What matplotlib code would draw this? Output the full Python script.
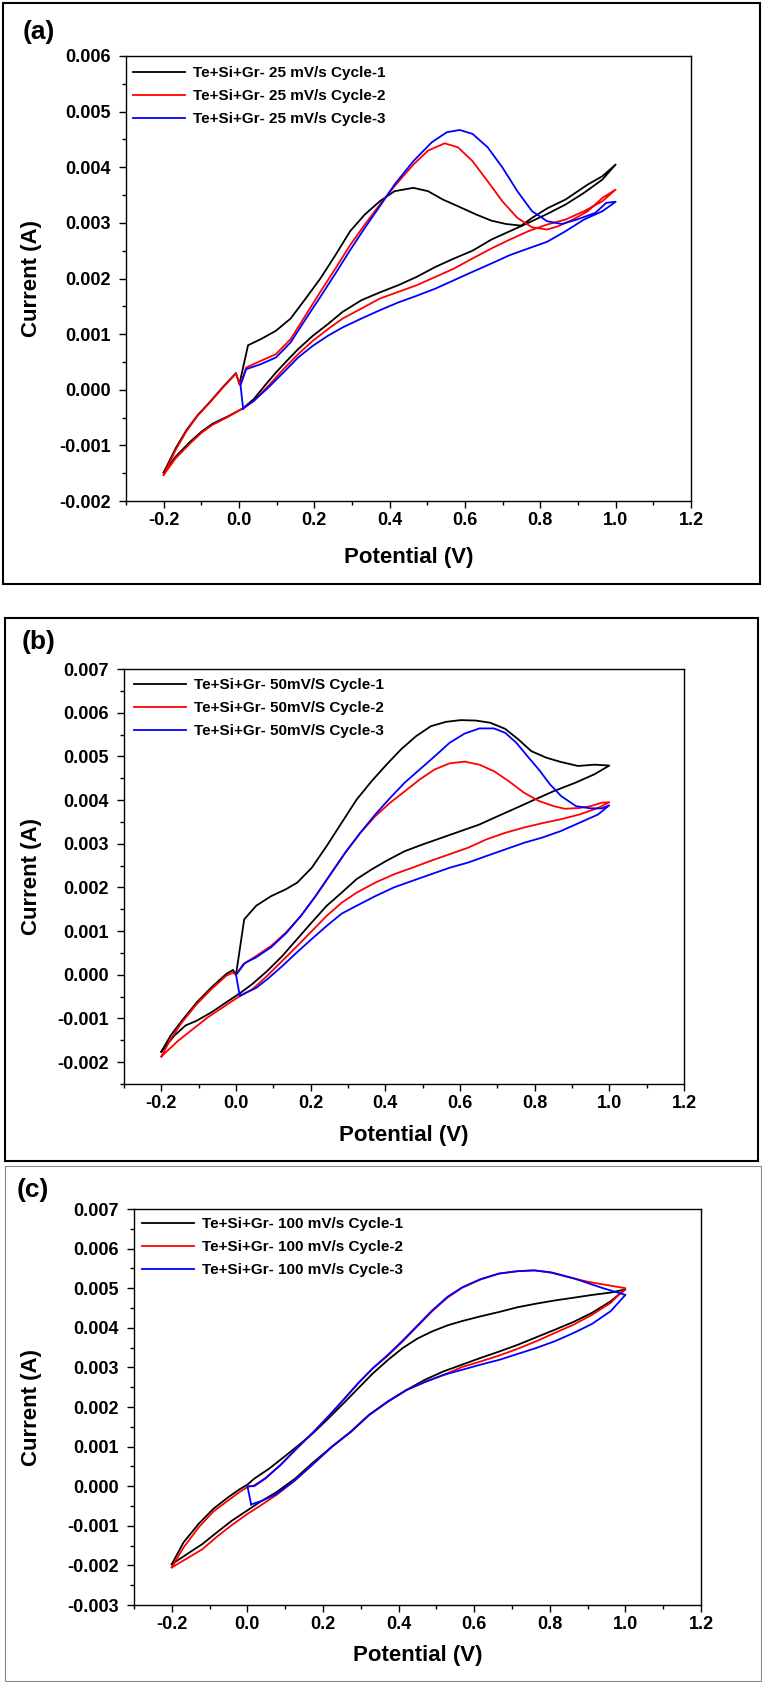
import matplotlib
matplotlib.use("Agg")
import matplotlib.pyplot as plt
from matplotlib.patches import Rectangle
from matplotlib.ticker import MultipleLocator, FuncFormatter

plt.rcParams['font.family'] = ['Liberation Sans', 'DejaVu Sans']
plt.rcParams['font.weight'] = 'bold'
plt.rcParams['axes.unicode_minus'] = False

# ---- (a) 25 mV/s ----
a1_v = [-0.2, -0.168, -0.139, -0.109, -0.08, -0.04, -0.008, 0.001, 0.024, 0.058,
        0.098, 0.137, 0.177, 0.216, 0.256, 0.295, 0.334, 0.374, 0.413, 0.463,
        0.502, 0.541, 0.581, 0.630, 0.670, 0.709, 0.749, 0.778, 0.818, 0.867,
        0.926, 0.965, 1.0, 0.965, 0.916, 0.867, 0.818, 0.768, 0.719, 0.670,
        0.620, 0.571, 0.522, 0.472, 0.423, 0.374, 0.325, 0.275, 0.236, 0.196,
        0.157, 0.127, 0.098, 0.068, 0.039, 0.009, -0.030, -0.070, -0.099, -0.129,
        -0.168, -0.2]
a1_i = [-0.00149, -0.00105, -0.00072, -0.00045, -0.00024, 0.00007, 0.00030, 0.00010, 0.00080, 0.00091,
        0.00106, 0.00128, 0.00164, 0.00200, 0.00242, 0.00285, 0.00315, 0.00339, 0.00357, 0.00363,
        0.00357, 0.00342, 0.00330, 0.00315, 0.00304, 0.00298, 0.00295, 0.00309, 0.00326, 0.00342,
        0.00369, 0.00384, 0.00405, 0.00378, 0.00354, 0.00333, 0.00316, 0.00300, 0.00285, 0.00270,
        0.00250, 0.00236, 0.00221, 0.00203, 0.00188, 0.00175, 0.00161, 0.00140, 0.00118, 0.00097,
        0.00073, 0.00052, 0.00031, 0.00007, -0.00017, -0.00034, -0.00048, -0.00061, -0.00075, -0.00093,
        -0.00120, -0.00149]
a2_v = [-0.2, -0.168, -0.139, -0.109, -0.08, -0.04, -0.008, 0.003, 0.019, 0.058,
        0.098, 0.137, 0.177, 0.216, 0.256, 0.295, 0.334, 0.374, 0.413, 0.463,
        0.502, 0.546, 0.581, 0.620, 0.660, 0.699, 0.739, 0.778, 0.818, 0.847,
        0.887, 0.926, 0.965, 1.0, 0.965, 0.916, 0.867, 0.818, 0.768, 0.719,
        0.670, 0.620, 0.571, 0.522, 0.472, 0.423, 0.374, 0.325, 0.275, 0.236,
        0.196, 0.157, 0.118, 0.078, 0.039, 0.009, -0.030, -0.070, -0.099, -0.129,
        -0.168, -0.2]
a2_i = [-0.00153, -0.00108, -0.00074, -0.00046, -0.00025, 0.00006, 0.00029, 0.00008, 0.00040, 0.00052,
        0.00064, 0.00091, 0.00134, 0.00176, 0.00218, 0.00260, 0.00297, 0.00333, 0.00366, 0.00405,
        0.00430, 0.00443, 0.00436, 0.00411, 0.00375, 0.00339, 0.00309, 0.00292, 0.00288, 0.00294,
        0.00306, 0.00321, 0.00345, 0.00360, 0.00339, 0.00321, 0.00306, 0.00297, 0.00285, 0.00270,
        0.00254, 0.00236, 0.00218, 0.00203, 0.00188, 0.00176, 0.00164, 0.00146, 0.00128, 0.00109,
        0.00088, 0.00064, 0.00037, 0.00007, -0.00020, -0.00034, -0.00049, -0.00063, -0.00077, -0.00096,
        -0.00123, -0.00153]
a3_v = [0.011, 0.004, 0.019, 0.058, 0.098, 0.137, 0.177, 0.216, 0.256, 0.295,
        0.334, 0.374, 0.413, 0.463, 0.512, 0.552, 0.586, 0.620, 0.660, 0.699,
        0.739, 0.778, 0.818, 0.857, 0.897, 0.946, 0.975, 1.0, 0.965, 0.916,
        0.867, 0.818, 0.768, 0.719, 0.670, 0.620, 0.571, 0.522, 0.472, 0.423,
        0.374, 0.325, 0.275, 0.236, 0.196, 0.157, 0.118, 0.078, 0.039, 0.011]
a3_i = [-0.00034, 0.00008, 0.00037, 0.00046, 0.00058, 0.00085, 0.00127, 0.00167, 0.00209, 0.00251,
        0.00291, 0.00330, 0.00369, 0.00411, 0.00445, 0.00463, 0.00467, 0.00460, 0.00436, 0.00400,
        0.00357, 0.00321, 0.00303, 0.00298, 0.00306, 0.00318, 0.00336, 0.00338, 0.00321, 0.00306,
        0.00285, 0.00266, 0.00254, 0.00242, 0.00227, 0.00212, 0.00197, 0.00182, 0.00169, 0.00157,
        0.00143, 0.00128, 0.00112, 0.00097, 0.00079, 0.00058, 0.00031, 0.00004, -0.00020, -0.00034]

# ---- (b) 50 mV/s ----
b1_v = [-0.2, -0.175, -0.145, -0.105, -0.066, -0.026, -0.008, 0.0, 0.022, 0.054,
        0.094, 0.134, 0.164, 0.203, 0.243, 0.283, 0.323, 0.363, 0.403, 0.442,
        0.482, 0.522, 0.562, 0.602, 0.642, 0.681, 0.721, 0.756, 0.791, 0.831,
        0.871, 0.916, 0.960, 1.0, 0.960, 0.910, 0.850, 0.800, 0.751, 0.701,
        0.652, 0.602, 0.552, 0.502, 0.452, 0.403, 0.363, 0.323, 0.283, 0.243,
        0.203, 0.164, 0.124, 0.084, 0.044, 0.014, -0.026, -0.066, -0.105, -0.135,
        -0.165, -0.2]
b1_i = [-0.00176, -0.00139, -0.00105, -0.00063, -0.00029, 0.00002, 0.00011, 0.00000, 0.00127, 0.00158,
        0.00180, 0.00196, 0.00211, 0.00245, 0.00295, 0.00348, 0.00401, 0.00443, 0.00481, 0.00516,
        0.00546, 0.00569, 0.00579, 0.00583, 0.00582, 0.00577, 0.00563, 0.00539, 0.00512, 0.00497,
        0.00487, 0.00478, 0.00481, 0.00479, 0.00459, 0.00440, 0.00420, 0.00401, 0.00382, 0.00363,
        0.00344, 0.00329, 0.00314, 0.00299, 0.00283, 0.00261, 0.00241, 0.00219, 0.00188, 0.00158,
        0.00120, 0.00082, 0.00043, 0.00009, -0.00021, -0.00040, -0.00063, -0.00086, -0.00105, -0.00116,
        -0.00139, -0.00176]
b2_v = [-0.2, -0.175, -0.145, -0.105, -0.066, -0.026, -0.008, 0.0, 0.019, 0.054,
        0.094, 0.134, 0.174, 0.213, 0.253, 0.293, 0.333, 0.373, 0.413, 0.452,
        0.492, 0.532, 0.572, 0.612, 0.652, 0.691, 0.731, 0.771, 0.811, 0.851,
        0.881, 0.921, 0.950, 0.980, 1.0, 0.970, 0.920, 0.870, 0.820, 0.771,
        0.721, 0.671, 0.622, 0.572, 0.522, 0.472, 0.423, 0.373, 0.323, 0.283,
        0.243, 0.203, 0.164, 0.124, 0.084, 0.044, 0.004, -0.036, -0.075, -0.115,
        -0.155, -0.2]
b2_i = [-0.00187, -0.00147, -0.00109, -0.00067, -0.00033, -0.00002, 0.00005, 0.00000, 0.00024, 0.00043,
        0.00066, 0.00097, 0.00135, 0.00180, 0.00230, 0.00280, 0.00325, 0.00363, 0.00394, 0.00420,
        0.00447, 0.00470, 0.00484, 0.00488, 0.00481, 0.00466, 0.00443, 0.00417, 0.00398, 0.00386,
        0.00380, 0.00382, 0.00386, 0.00394, 0.00395, 0.00382, 0.00367, 0.00356, 0.00347, 0.00337,
        0.00325, 0.00310, 0.00291, 0.00276, 0.00261, 0.00245, 0.00230, 0.00211, 0.00188, 0.00165,
        0.00135, 0.00100, 0.00066, 0.00032, -0.00002, -0.00033, -0.00052, -0.00075, -0.00097, -0.00124,
        -0.00151, -0.00187]
b3_v = [0.010, 0.0, 0.024, 0.054, 0.094, 0.134, 0.174, 0.213, 0.253, 0.293,
        0.333, 0.373, 0.413, 0.452, 0.492, 0.532, 0.572, 0.612, 0.652, 0.691,
        0.721, 0.751, 0.781, 0.811, 0.841, 0.871, 0.911, 0.950, 0.980, 1.0,
        0.970, 0.920, 0.870, 0.820, 0.771, 0.721, 0.671, 0.622, 0.572, 0.522,
        0.472, 0.423, 0.373, 0.323, 0.283, 0.243, 0.203, 0.164, 0.124, 0.084,
        0.054, 0.010]
b3_i = [-0.00048, 0.00000, 0.00027, 0.00040, 0.00063, 0.00095, 0.00135, 0.00180, 0.00230, 0.00280,
        0.00325, 0.00367, 0.00405, 0.00440, 0.00470, 0.00500, 0.00531, 0.00552, 0.00564, 0.00564,
        0.00554, 0.00531, 0.00500, 0.00470, 0.00436, 0.00409, 0.00386, 0.00381, 0.00381, 0.00388,
        0.00367, 0.00348, 0.00329, 0.00314, 0.00302, 0.00287, 0.00272, 0.00257, 0.00245, 0.00230,
        0.00215, 0.00200, 0.00180, 0.00158, 0.00140, 0.00112, 0.00082, 0.00052, 0.00020, -0.00010,
        -0.00030, -0.00048]

# ---- (c) 100 mV/s ----
c1_v = [-0.2, -0.169, -0.129, -0.090, -0.051, -0.021, 0.0, 0.018, 0.057, 0.097,
        0.136, 0.175, 0.214, 0.254, 0.293, 0.332, 0.372, 0.411, 0.450, 0.489,
        0.529, 0.568, 0.617, 0.666, 0.715, 0.764, 0.813, 0.863, 0.912, 0.961,
        1.0, 0.961, 0.912, 0.863, 0.813, 0.764, 0.715, 0.666, 0.617, 0.568,
        0.519, 0.470, 0.421, 0.372, 0.322, 0.273, 0.224, 0.175, 0.126, 0.077,
        0.028, 0.0, -0.041, -0.080, -0.119, -0.159, -0.2]
c1_i = [-0.00197, -0.00142, -0.00095, -0.00057, -0.00028, -0.00008, 0.00004, 0.00019, 0.00044, 0.00074,
        0.00104, 0.00135, 0.00171, 0.00209, 0.00247, 0.00285, 0.00319, 0.00349, 0.00373, 0.00391,
        0.00406, 0.00417, 0.00429, 0.00440, 0.00452, 0.00461, 0.00469, 0.00476, 0.00483, 0.00489,
        0.00497, 0.00467, 0.00438, 0.00415, 0.00395, 0.00376, 0.00357, 0.00340, 0.00324, 0.00307,
        0.00290, 0.00269, 0.00243, 0.00214, 0.00180, 0.00137, 0.00100, 0.00061, 0.00019, -0.00015,
        -0.00043, -0.00061, -0.00087, -0.00116, -0.00146, -0.00171, -0.00197]
c2_v = [-0.2, -0.169, -0.129, -0.090, -0.051, -0.021, 0.0, 0.018, 0.047, 0.087,
        0.126, 0.175, 0.214, 0.254, 0.293, 0.332, 0.372, 0.411, 0.450, 0.489,
        0.529, 0.568, 0.617, 0.666, 0.715, 0.759, 0.804, 0.853, 0.902, 0.951,
        1.0, 0.961, 0.912, 0.863, 0.813, 0.764, 0.715, 0.666, 0.617, 0.568,
        0.519, 0.470, 0.421, 0.372, 0.322, 0.273, 0.224, 0.175, 0.126, 0.077,
        0.028, 0.0, -0.041, -0.080, -0.119, -0.159, -0.2]
c2_i = [-0.00205, -0.00155, -0.00104, -0.00064, -0.00036, -0.00015, -0.00002, 0.00002, 0.00020, 0.00053,
        0.00091, 0.00137, 0.00176, 0.00218, 0.00260, 0.00298, 0.00330, 0.00366, 0.00404, 0.00442,
        0.00476, 0.00501, 0.00522, 0.00537, 0.00543, 0.00545, 0.00539, 0.00527, 0.00516, 0.00508,
        0.00500, 0.00463, 0.00433, 0.00408, 0.00387, 0.00366, 0.00347, 0.00330, 0.00315, 0.00301,
        0.00281, 0.00264, 0.00243, 0.00214, 0.00180, 0.00137, 0.00100, 0.00057, 0.00015, -0.00022,
        -0.00053, -0.00070, -0.00098, -0.00127, -0.00159, -0.00182, -0.00205]
c3_v = [0.010, 0.0, 0.018, 0.047, 0.087, 0.126, 0.175, 0.214, 0.254, 0.293,
        0.332, 0.372, 0.411, 0.450, 0.489, 0.529, 0.568, 0.617, 0.666, 0.715,
        0.759, 0.804, 0.863, 0.941, 1.0, 0.961, 0.912, 0.863, 0.813, 0.764,
        0.715, 0.666, 0.617, 0.568, 0.519, 0.470, 0.421, 0.372, 0.322, 0.273,
        0.224, 0.175, 0.126, 0.077, 0.038, 0.010]
c3_i = [-0.00046, 0.00000, 0.00000, 0.00019, 0.00053, 0.00091, 0.00137, 0.00176, 0.00218, 0.00260,
        0.00298, 0.00332, 0.00368, 0.00406, 0.00444, 0.00478, 0.00502, 0.00523, 0.00537, 0.00543,
        0.00545, 0.00540, 0.00525, 0.00500, 0.00483, 0.00442, 0.00410, 0.00387, 0.00366, 0.00349,
        0.00334, 0.00319, 0.00307, 0.00294, 0.00281, 0.00263, 0.00243, 0.00214, 0.00180, 0.00137,
        0.00100, 0.00057, 0.00015, -0.00020, -0.00037, -0.00046]

labels_a = ["Te+Si+Gr- 25 mV/s Cycle-1", "Te+Si+Gr- 25 mV/s Cycle-2", "Te+Si+Gr- 25 mV/s Cycle-3"]
labels_b = ["Te+Si+Gr- 50mV/S Cycle-1", "Te+Si+Gr- 50mV/S Cycle-2", "Te+Si+Gr- 50mV/S Cycle-3"]
labels_c = ["Te+Si+Gr- 100 mV/s Cycle-1", "Te+Si+Gr- 100 mV/s Cycle-2", "Te+Si+Gr- 100 mV/s Cycle-3"]
colors = ["black", "red", "blue"]

W, H = 762, 1682
fig = plt.figure(figsize=(W / 100, H / 100), dpi=100)


def px_axes(left, top, right, bottom):
    return fig.add_axes([left / W, 1 - bottom / H, (right - left) / W, (bottom - top) / H])


def box(left, top, right, bottom, color, lw):
    fig.add_artist(Rectangle((left / W, 1 - bottom / H), (right - left) / W, (bottom - top) / H,
                             transform=fig.transFigure, fill=False, ec=color, lw=lw))


panels = [
    # axes px, ylim, curves, labels, legend offset px (x, y), box, tag, tag pos, xlabel y
    ((126, 56, 691, 501), (-0.002, 0.006),
     [(a1_v, a1_i), (a2_v, a2_i), (a3_v, a3_i)], labels_a, (7, 10),
     (3, 3, 760, 584, "black", 1.5), "(a)", (23, 32), 558),
    ((124, 669, 684, 1084), (-0.0025, 0.007),
     [(b1_v, b1_i), (b2_v, b2_i), (b3_v, b3_i)], labels_b, (10, 9),
     (5, 618, 758, 1161, "black", 1.5), "(b)", (22, 642), 1135),
    ((134, 1209, 701, 1605), (-0.003, 0.007),
     [(c1_v, c1_i), (c2_v, c2_i), (c3_v, c3_i)], labels_c, (8, 8),
     (5, 1166, 761, 1681, "#888888", 0.8), "(c)", (17, 1190), 1656),
]

for rect, ylim, curves, labels, leg_off, bx, tag, tag_pos, xlab_y in panels:
    l, t, r, b = rect
    ax = px_axes(l, t, r, b)
    for (v, i), c, lab in zip(curves, colors, labels):
        ax.plot(v, i, color=c, lw=1.3, label=lab)
    ax.set_xlim(-0.3, 1.2)
    ax.set_ylim(*ylim)
    ax.xaxis.set_major_locator(MultipleLocator(0.2))
    ax.xaxis.set_minor_locator(MultipleLocator(0.1))
    ax.yaxis.set_major_locator(MultipleLocator(0.001))
    ax.yaxis.set_minor_locator(MultipleLocator(0.0005))
    ax.xaxis.set_major_formatter(FuncFormatter(lambda x, p: '%.1f' % (round(x, 6) + 0.0)))
    ax.yaxis.set_major_formatter(FuncFormatter(lambda y, p: '%.3f' % (round(y, 7) + 0.0)))
    ax.tick_params(which='both', direction='out', top=False, right=False, width=1)
    ax.tick_params(which='major', length=5, labelsize=13)
    ax.tick_params(which='minor', length=3)
    ax.tick_params(axis='x', pad=3)
    ax.tick_params(axis='y', pad=6)
    for s in ax.spines.values():
        s.set_linewidth(1.0)

    ax.set_xlabel("Potential (V)", fontsize=16, fontweight='bold', va='center')
    ax.xaxis.set_label_coords(0.5, -(xlab_y - b) / (b - t))
    ax.set_ylabel("Current (A)", fontsize=16, fontweight='bold', va='center')
    ax.yaxis.set_label_coords(-(l - 32) / (r - l), 0.5)

    ax.legend(loc='upper left', frameon=False, fontsize=11,
              prop={'weight': 'bold', 'size': 11},
              bbox_to_anchor=(leg_off[0] / (r - l), 1 - leg_off[1] / (b - t)),
              borderpad=0, borderaxespad=0, handlelength=3.4, handletextpad=0.5,
              labelspacing=0.6)

    box(*bx)
    fig.text(tag_pos[0] / W, 1 - tag_pos[1] / H, tag, fontsize=19, fontweight='bold',
             ha='left', va='center')

fig.savefig("out.png", dpi=100)
